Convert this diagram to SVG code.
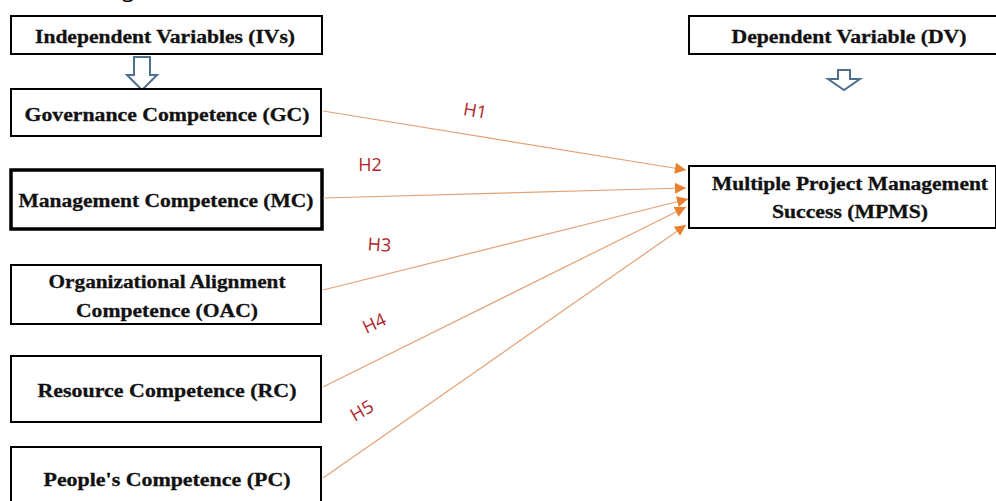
<svg xmlns="http://www.w3.org/2000/svg" width="996" height="501" viewBox="0 0 996 501">
<style>
.box{fill:#fff;stroke:#000;stroke-width:2}
.thick{stroke-width:3.5}
.t{font-family:"Liberation Serif","Times New Roman",serif;font-weight:bold;font-size:18.5px;fill:#111;text-anchor:middle;stroke:#111;stroke-width:0.3}
.h{font-family:"Open Sans","DejaVu Sans",sans-serif;font-size:18px;fill:#b01f2c;text-anchor:middle}
.c{stroke:#e3a276;stroke-width:1.2;fill:none;marker-end:url(#ah)}
.hol{fill:#fff;stroke:#4f7190;stroke-width:2;stroke-linejoin:miter}
</style>
<defs>
<marker id="ah" viewBox="0 0 10 10" refX="10" refY="5" markerWidth="12" markerHeight="11" markerUnits="userSpaceOnUse" orient="auto">
<path d="M0,0 L10,5 L0,10 Z" fill="#e8802f"/>
</marker>
</defs>
<rect width="996" height="501" fill="#fff"/>
<text x="128" y="-3" font-family="Open Sans, sans-serif" font-size="22" fill="#000" text-anchor="middle">g</text>

<g id="ivs">
<rect class="box" x="11" y="16" width="311" height="38"/>
<text class="t" x="165" y="43" textLength="260" lengthAdjust="spacingAndGlyphs">Independent Variables (IVs)</text>
</g>
<g id="iv-arrow">
<path class="hol" d="M134,57 L150,57 L150,75 L157,75 L142,90 L127,75 L134,75 Z"/>
</g>
<g id="gc">
<rect class="box" x="11" y="89" width="310" height="47"/>
<text class="t" x="167" y="121" textLength="285" lengthAdjust="spacingAndGlyphs">Governance Competence (GC)</text>
</g>
<g id="mc">
<rect class="box thick" x="11" y="170" width="311" height="59"/>
<text class="t" x="166" y="207" textLength="295" lengthAdjust="spacingAndGlyphs">Management Competence (MC)</text>
</g>
<g id="oac">
<rect class="box" x="11" y="265" width="310" height="59"/>
<text class="t" x="167" y="288" textLength="237" lengthAdjust="spacingAndGlyphs">Organizational Alignment</text>
<text class="t" x="167" y="317" textLength="182" lengthAdjust="spacingAndGlyphs">Competence (OAC)</text>
</g>
<g id="rc">
<rect class="box" x="11" y="356" width="310" height="66"/>
<text class="t" x="167" y="397" textLength="259" lengthAdjust="spacingAndGlyphs">Resource Competence (RC)</text>
</g>
<g id="pc">
<rect class="box" x="11" y="447" width="310" height="58"/>
<text class="t" x="167" y="486" textLength="247" lengthAdjust="spacingAndGlyphs">People's Competence (PC)</text>
</g>
<g id="dv">
<rect class="box" x="689" y="16" width="308" height="38"/>
<text class="t" x="849" y="43" textLength="235" lengthAdjust="spacingAndGlyphs">Dependent Variable (DV)</text>
</g>
<g id="dv-arrow">
<path class="hol" d="M838,70 L850,70 L850,79 L860,79 L844,90 L828,79 L838,79 Z"/>
</g>
<g id="mpms">
<rect class="box" x="689" y="166" width="307" height="62"/>
<text class="t" x="850" y="190" textLength="276" lengthAdjust="spacingAndGlyphs">Multiple Project Management</text>
<text class="t" x="850" y="218" textLength="156" lengthAdjust="spacingAndGlyphs">Success (MPMS)</text>
</g>

<g id="connectors">
<line class="c" x1="323" y1="111" x2="686" y2="170"/>
<line class="c" x1="323" y1="198" x2="686" y2="188"/>
<line class="c" x1="323" y1="290" x2="688" y2="199"/>
<line class="c" x1="323" y1="387" x2="686" y2="207"/>
<line class="c" x1="323" y1="478" x2="686" y2="225"/>
</g>
<g id="labels">
<text class="h" transform="translate(474,117) rotate(10)">H1</text>
<text class="h" transform="translate(370,171)">H2</text>
<text class="h" transform="translate(379,251) rotate(4)">H3</text>
<text class="h" transform="translate(377,329) rotate(-25)">H4</text>
<text class="h" transform="translate(365,416) rotate(-30)">H5</text>
</g>
</svg>
